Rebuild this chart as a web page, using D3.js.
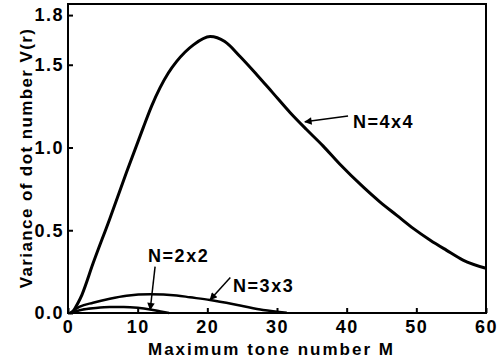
<!DOCTYPE html>
<html>
<head>
<meta charset="utf-8">
<script src="https://cdnjs.cloudflare.com/ajax/libs/d3/7.8.5/d3.min.js"></script>
<style>
  body { margin: 0; background: #fff; }
  text { font-family: "Liberation Sans", Arial, sans-serif; font-weight: bold; fill: #000; }
</style>
</head>
<body>
<div id="chart"></div>
<script>
var W = 500, H = 364;
var margin = { top: 4, right: 14, bottom: 51, left: 68 };

// curve for N=4x4
var m44 = [0.6, 2, 3.6, 6, 8.4, 10.8, 12, 13.2, 14.4, 15.6, 18, 20.4, 22.5, 24.7, 27.1, 29.4, 31.9, 34.2, 36.6, 39, 42.4, 44.8, 47.2, 49.6, 52, 54.3, 56.7, 60];
var v44 = [0, 0.11, 0.30, 0.57, 0.85, 1.12, 1.25, 1.36, 1.45, 1.52, 1.62, 1.67, 1.64, 1.55, 1.44, 1.33, 1.21, 1.11, 1.01, 0.90, 0.76, 0.67, 0.59, 0.51, 0.44, 0.38, 0.32, 0.27];

// curve for N=3x3
var m33 = [0.3, 1.7, 3.6, 6, 8.4, 11.8, 15.6, 17.5, 20.4, 24.7, 28, 31.4];
var v33 = [0, 0.038, 0.062, 0.086, 0.104, 0.113, 0.106, 0.095, 0.078, 0.045, 0.018, 0.002];

// curve for N=2x2
var m22 = [0.3, 2, 4, 6, 8, 10, 12, 13.5, 14.5];
var v22 = [0, 0.02, 0.03, 0.036, 0.037, 0.032, 0.02, 0.008, 0];

var xTicks = [0, 10, 20, 30, 40, 50, 60];
var yTicks = [0, 0.5, 1.0, 1.5, 1.8];

// labels: text anchor point, arrow tail, arrow head (data units)
var labels = [
  { text: "N=4x4", at: [40.9, 1.115], from: [40.2, 1.19], to: [34.0, 1.155] },
  { text: "N=2x2", at: [11.5, 0.31], from: [12.5, 0.28], to: [11.8, 0.02] },
  { text: "N=3x3", at: [23.7, 0.127], from: [23.3, 0.215], to: [20.4, 0.08] }
];

var svg = d3.select("#chart").append("svg")
  .attr("width", W).attr("height", H);

var x = d3.scaleLinear().domain([0, 60]).range([margin.left, W - margin.right]);
var y = d3.scaleLinear().domain([0, 1.867]).range([H - margin.bottom, margin.top]);

// frame
svg.append("rect")
  .attr("x", x(0)).attr("y", y(1.867))
  .attr("width", x(60) - x(0)).attr("height", y(0) - y(1.867))
  .attr("fill", "none").attr("stroke", "#000").attr("stroke-width", 2);

var xAxis = svg.append("g")
  .attr("transform", "translate(0," + y(0) + ")")
  .call(d3.axisBottom(x).tickValues(xTicks).tickSize(-5).tickPadding(7).tickFormat(d3.format("d")));
var yAxis = svg.append("g")
  .attr("transform", "translate(" + x(0) + ",0)")
  .call(d3.axisLeft(y).tickValues(yTicks).tickSize(-5).tickPadding(4).tickFormat(d3.format(".1f")));

[xAxis, yAxis].forEach(function(g){
  g.select(".domain").remove();
  g.selectAll(".tick line").attr("stroke", "#000").attr("stroke-width", 2);
  g.selectAll(".tick text")
    .style("font-size", "18px")
    .style("letter-spacing", "1.5px")
    .style("font-family", "'Liberation Sans', Arial, sans-serif")
    .style("font-weight", "bold");
});

// axis titles
svg.append("text")
  .attr("x", 148).attr("y", 355)
  .style("font-size", "17px").style("letter-spacing", "2px")
  .text("Maximum tone number  M");
svg.append("text")
  .attr("transform", "translate(32,158) rotate(-90)")
  .attr("text-anchor", "middle")
  .style("font-size", "17px").style("letter-spacing", "1.4px")
  .text("Variance of dot number  V(r)");

// curves
var line = d3.line()
  .x(function(d){ return x(d[0]); })
  .y(function(d){ return y(d[1]); })
  .curve(d3.curveMonotoneX);

var series = [
  { m: m44, v: v44, w: 3 },
  { m: m33, v: v33, w: 2.5 },
  { m: m22, v: v22, w: 2.5 }
];
series.forEach(function(s){
  svg.append("path")
    .datum(d3.zip(s.m, s.v))
    .attr("d", line)
    .attr("fill", "none")
    .attr("stroke", "#000")
    .attr("stroke-width", s.w)
    .attr("stroke-linejoin", "round");
});

// arrow marker
svg.append("defs").append("marker")
  .attr("id", "arr")
  .attr("viewBox", "0 0 10 10")
  .attr("refX", 9).attr("refY", 5)
  .attr("markerWidth", 6).attr("markerHeight", 5)
  .attr("orient", "auto")
  .append("path").attr("d", "M0,0L10,5L0,10z").attr("fill", "#000");

labels.forEach(function(l){
  svg.append("line")
    .attr("x1", x(l.from[0])).attr("y1", y(l.from[1]))
    .attr("x2", x(l.to[0])).attr("y2", y(l.to[1]))
    .attr("stroke", "#000").attr("stroke-width", 1.5)
    .attr("marker-end", "url(#arr)");
  svg.append("text")
    .attr("x", x(l.at[0])).attr("y", y(l.at[1]))
    .style("font-size", "18px").style("letter-spacing", "1.5px")
    .text(l.text);
});
</script>
</body>
</html>
